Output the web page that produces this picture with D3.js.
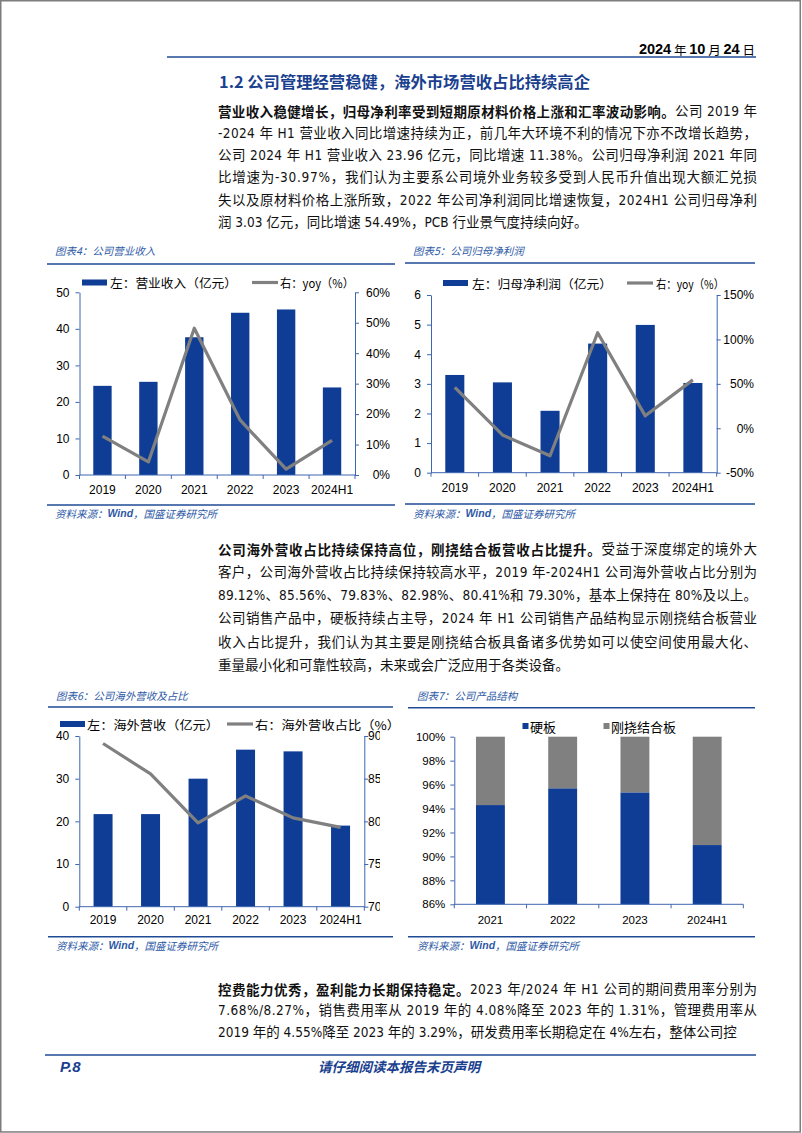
<!DOCTYPE html>
<html><head><meta charset="utf-8">
<script src="https://cdn.jsdelivr.net/npm/d3@7"></script>
<style>
html,body{margin:0;padding:0;background:#fff;}
svg{display:block;}
</style></head><body>
<svg id="page" width="802" height="1133"></svg>
<script>
// ---------------- DATA ----------------
const years6 = ["2019","2020","2021","2022","2023","2024H1"];
const years4 = ["2021","2022","2023","2024H1"];

// 图表4 公司营业收入
const revenue = [24.4, 25.5, 37.7, 44.4, 45.3, 23.96];          // 亿元
const revenueYoy = [12.8, 4.3, 48.2, 18.0, 1.9, 11.38];          // %
const revTicksL = [0, 10, 20, 30, 40, 50];
const revTicksR = [0, 10, 20, 30, 40, 50, 60];

// 图表5 公司归母净利润
const netProfit = [3.30, 3.05, 2.09, 4.36, 4.99, 3.03];         // 亿元
const netProfitYoy = [46.0, -7.5, -30.97, 107.5, 14.0, 54.49];   // %
const npTicksL = [0, 1, 2, 3, 4, 5, 6];
const npTicksR = [-50, 0, 50, 100, 150];

// 图表6 公司海外营收及占比
const overseasRev = [21.7, 21.7, 30.0, 36.8, 36.4, 19.0];       // 亿元
const overseasShare = [89.12, 85.56, 79.83, 82.98, 80.41, 79.30];// %
const osTicksL = [0, 10, 20, 30, 40];
const osTicksR = [70, 75, 80, 85, 90];

// 图表7 公司产品结构
const rigidShare = [94.29, 95.69, 95.35, 90.95];                 // 硬板 %
const rigidFlexShare = rigidShare.map(v => +(100 - v).toFixed(2)); // 刚挠结合板 %
const psTicks = [86, 88, 90, 92, 94, 96, 98, 100];

// ---------------- TEXT ----------------
const dateParts = [["2024",1],[" 年 ",0],["10",1],[" 月 ",0],["24",1],[" 日",0]];
const heading = "1.2 公司管理经营稳健，海外市场营收占比持续高企";
const para1 = [
  [[1,"营业收入稳健增长，归母净利率受到短期原材料价格上涨和汇率波动影响。"],[0,"公司 2019 年"]],
  [[0,"-2024 年 H1 营业收入同比增速持续为正，前几年大环境不利的情况下亦不改增长趋势，"]],
  [[0,"公司 2024 年 H1 营业收入 23.96 亿元，同比增速 11.38%。公司归母净利润 2021 年同"]],
  [[0,"比增速为-30.97%，我们认为主要系公司境外业务较多受到人民币升值出现大额汇兑损"]],
  [[0,"失以及原材料价格上涨所致，2022 年公司净利润同比增速恢复，2024H1 公司归母净利"]],
  [[0,"润 3.03 亿元，同比增速 54.49%，PCB 行业景气度持续向好。"]]
];
const para2 = [
  [[1,"公司海外营收占比持续保持高位，刚挠结合板营收占比提升。"],[0,"受益于深度绑定的境外大"]],
  [[0,"客户，公司海外营收占比持续保持较高水平，2019 年-2024H1 公司海外营收占比分别为"]],
  [[0,"89.12%、85.56%、79.83%、82.98%、80.41%和 79.30%，基本上保持在 80%及以上。"]],
  [[0,"公司销售产品中，硬板持续占主导，2024 年 H1 公司销售产品结构显示刚挠结合板营业"]],
  [[0,"收入占比提升，我们认为其主要是刚挠结合板具备诸多优势如可以使空间使用最大化、"]],
  [[0,"重量最小化和可靠性较高，未来或会广泛应用于各类设备。"]]
];
const para3 = [
  [[1,"控费能力优秀，盈利能力长期保持稳定。"],[0,"2023 年/2024 年 H1 公司的期间费用率分别为"]],
  [[0,"7.68%/8.27%，销售费用率从 2019 年的 4.08%降至 2023 年的 1.31%，管理费用率从"]],
  [[0,"2019 年的 4.55%降至 2023 年的 3.29%，研发费用率长期稳定在 4%左右，整体公司控"]]
];

// ---------------- STYLE ----------------
const svg = d3.select("#page");
const BLUE = "#0f3d96";
const GRAY = "#808080";
const AX = "#3f66b0";
const LINEBLUE = "#1f4a94";
const TBLUE = "#2d59a6";
const CJK = '"Noto Sans CJK SC", sans-serif';
const BODY = '"DejaVu Sans Condensed","DejaVu Sans","Noto Sans CJK SC",sans-serif';
const NUM = '"Liberation Sans", Arial, "Noto Sans CJK SC", sans-serif';

// page border
svg.append("rect").attr("x",0.75).attr("y",0.75).attr("width",799.5).attr("height",1131.2)
  .attr("fill","none").attr("stroke","#7d7d7d").attr("stroke-width",1.5);

// header date
const hdr = svg.append("text").attr("x",755).attr("y",49).attr("text-anchor","end")
  .attr("dominant-baseline","central").style("font-size","14px").attr("fill","#000");
dateParts.forEach(([t,b]) => hdr.append("tspan").text(t)
  .style("font-weight", b ? "bold" : "normal")
  .style("font-family", b ? '"Liberation Sans Narrow","Liberation Sans",sans-serif' : CJK)
  .style("font-size", b ? "14.5px" : "12.5px"));
svg.append("line").attr("x1",167).attr("x2",756).attr("y1",57).attr("y2",57)
  .attr("stroke",LINEBLUE).attr("stroke-width",1.6);

// heading
svg.append("text").attr("x",219).attr("y",81).attr("dominant-baseline","central")
  .attr("textLength",371).attr("lengthAdjust","spacingAndGlyphs")
  .style("font-family",CJK).style("font-size","15.5px").style("font-weight","bold")
  .attr("fill","#1a3f8f").text(heading);

function paragraph(lines, x, y0, lh, width){
  lines.forEach((segs, i) => {
    const t = svg.append("text").attr("x",x).attr("y",y0 + i*lh)
      .attr("dominant-baseline","central").style("font-family",BODY)
      .style("font-size","13.5px").attr("fill","#111");
    if (i < lines.length - 1) t.attr("textLength",width).attr("lengthAdjust","spacing");
    segs.forEach(([b,s]) => t.append("tspan").text(s)
      .style("font-weight", b ? "bold" : "normal")
      .style("font-family", b ? CJK : BODY));
  });
}
paragraph(para1, 218, 110.5, 22.3, 539);
paragraph(para2, 218, 548.5, 23.3, 539);
paragraph(para3, 218, 988.5, 21.8, 539);

// footer
svg.append("line").attr("x1",45).attr("x2",756).attr("y1",1055).attr("y2",1055)
  .attr("stroke",LINEBLUE).attr("stroke-width",1.4);
svg.append("text").attr("x",60).attr("y",1066).attr("dominant-baseline","central")
  .style("font-family",NUM).style("font-size","15px").style("font-weight","bold")
  .style("font-style","italic").attr("fill","#1a3f8f").text("P.8");
svg.append("text").attr("x",399).attr("y",1066).attr("dominant-baseline","central")
  .attr("text-anchor","middle").style("font-family",CJK).style("font-size","13.5px")
  .style("font-weight","bold").style("font-style","italic").attr("fill","#1a3f8f")
  .text("请仔细阅读本报告末页声明");

// ---------------- CHART FRAME ----------------
function frame(o){
  svg.append("text").attr("x",o.tx).attr("y",o.ty).attr("dominant-baseline","central")
    .style("font-family",CJK).style("font-size","10.5px").style("font-style","italic")
    .attr("fill",TBLUE).text(o.title);
  svg.append("line").attr("x1",o.lx0).attr("x2",o.lx1).attr("y1",o.ly1).attr("y2",o.ly1)
    .attr("stroke",LINEBLUE).attr("stroke-width",1.5);
  svg.append("line").attr("x1",o.lx0).attr("x2",o.lx1).attr("y1",o.ly2).attr("y2",o.ly2)
    .attr("stroke",LINEBLUE).attr("stroke-width",1.5);
  const s = svg.append("text").attr("x",o.tx).attr("y",o.sy).attr("dominant-baseline","central")
    .style("font-family",CJK).style("font-size","10.5px").style("font-style","italic").attr("fill",TBLUE);
  s.append("tspan").text("资料来源：");
  s.append("tspan").text("Wind").style("font-family",NUM).style("font-weight","bold");
  s.append("tspan").text("，国盛证券研究所");
}

function styleAxis(g, fs){
  g.attr("font-family",null).attr("font-size",null);
  g.select(".domain").attr("stroke",AX).attr("stroke-width",1);
  g.selectAll(".tick line").attr("stroke",AX).attr("stroke-width",1);
  g.selectAll(".tick text").attr("fill","#000").style("font-family",NUM).style("font-size",fs+"px");
}

function bottomAxis(x, o, fs){
  const g = svg.append("g");
  g.append("line").attr("x1",o.x0).attr("x2",o.x1).attr("y1",o.yB).attr("y2",o.yB)
    .attr("stroke",AX).attr("stroke-width",1);
  const bounds = x.domain().map(d => x(d)).concat([o.x1]);
  g.selectAll("line.bt").data(bounds).join("line").attr("class","bt")
    .attr("x1",d=>d).attr("x2",d=>d).attr("y1",o.yB).attr("y2",o.yB+4)
    .attr("stroke",AX).attr("stroke-width",1);
  g.selectAll("text").data(x.domain()).join("text")
    .attr("x",d => x(d)+x.bandwidth()/2).attr("y",o.xLabelY)
    .attr("text-anchor","middle").attr("dominant-baseline","central")
    .style("font-family",NUM).style("font-size",fs+"px").attr("fill","#000").text(d=>d);
}

let clipId = 0;
function comboChart(o){
  const x = d3.scaleBand().domain(o.cats).range([o.x0,o.x1]);
  const cx = d => x(d) + x.bandwidth()/2;
  const bw = x.bandwidth()*o.barRatio;
  const yL = d3.scaleLinear().domain(o.lDomain).range([o.yB,o.yT]);
  const yR = d3.scaleLinear().domain(o.rDomain).range([o.yB,o.yT]);

  svg.append("g").selectAll("rect").data(o.cats.map((c,i)=>({c, v:o.bars[i]}))).join("rect")
    .attr("x",d=>cx(d.c)-bw/2).attr("y",d=>yL(d.v)).attr("width",bw)
    .attr("height",d=>yL(o.lDomain[0])-yL(d.v)).attr("fill",BLUE);

  const la = svg.append("g").attr("transform",`translate(${o.x0},0)`)
    .call(d3.axisLeft(yL).tickValues(o.lTicks).tickSize(4).tickSizeOuter(0)
      .tickPadding(o.lPad).tickFormat(o.lFmt));
  styleAxis(la, o.fs);

  const wrap = svg.append("g");
  if (o.clipX) {
    const id = "clip" + (clipId++);
    svg.append("clipPath").attr("id",id).append("rect")
      .attr("x",0).attr("y",0).attr("width",o.clipX).attr("height",1133);
    wrap.attr("clip-path",`url(#${id})`);
  }
  const ra = wrap.append("g").attr("transform",`translate(${o.x1},0)`)
    .call(d3.axisRight(yR).tickValues(o.rTicks).tickSize(4).tickSizeOuter(0).tickFormat(o.rFmt));
  styleAxis(ra, o.fs);
  ra.selectAll(".tick text").attr("text-anchor",o.rAnchor).attr("x",o.rLabelX - o.x1);

  bottomAxis(x, o, o.fs);

  svg.append("path").datum(o.line)
    .attr("d", d3.line().x((v,i)=>cx(o.cats[i])).y(v=>yR(v)))
    .attr("fill","none").attr("stroke",GRAY).attr("stroke-width",3.2)
    .attr("stroke-linejoin","round").attr("stroke-linecap","butt");

  // legend
  const lg = svg.append("g");
  if (o.legClip) {
    const id = "clip" + (clipId++);
    svg.append("clipPath").attr("id",id).append("rect")
      .attr("x",0).attr("y",0).attr("width",o.legClip).attr("height",1133);
    lg.attr("clip-path",`url(#${id})`);
  }
  lg.append("rect").attr("x",o.leg[0]).attr("y",o.legY-3).attr("width",25).attr("height",6).attr("fill",BLUE);
  lg.append("text").attr("x",o.leg[1]).attr("y",o.legY).attr("dominant-baseline","central")
    .attr("textLength",o.legW[0]).attr("lengthAdjust","spacingAndGlyphs")
    .style("font-family",CJK).style("font-size","12px").attr("fill","#000").text(o.legText[0]);
  lg.append("line").attr("x1",o.leg[2]).attr("x2",o.leg[2]+26).attr("y1",o.legY).attr("y2",o.legY)
    .attr("stroke",GRAY).attr("stroke-width",3.2);
  lg.append("text").attr("x",o.leg[3]).attr("y",o.legY).attr("dominant-baseline","central")
    .attr("textLength",o.legW[1]).attr("lengthAdjust","spacingAndGlyphs")
    .style("font-family",CJK).style("font-size","12px").attr("fill","#000").text(o.legText[1]);
}

const pct = d => d + "%";

// 图表4
frame({title:"图表4：公司营业收入", tx:55, ty:250, lx0:47, lx1:395, ly1:264, ly2:505, sy:513});
comboChart({cats:years6, bars:revenue, line:revenueYoy, x0:79.5, x1:355, yB:475, yT:292.3,
  lDomain:[0,50], lTicks:revTicksL, lFmt:d=>d, lPad:6, rDomain:[0,60], rTicks:revTicksR, rFmt:pct,
  rAnchor:"end", rLabelX:390, barRatio:0.4, fs:12, xLabelY:490,
  legY:282.5, leg:[82,110,252,280], legW:[127,74], legText:["左：营业收入（亿元）","右：yoy（%）"]});

// 图表5
frame({title:"图表5：公司归母净利润", tx:413, ty:250, lx0:405, lx1:755, ly1:263, ly2:504, sy:513});
comboChart({cats:years6, bars:netProfit, line:netProfitYoy, x0:431, x1:716.7, yB:472.7, yT:295,
  lDomain:[0,6], lTicks:npTicksL, lFmt:d=>d, lPad:6, rDomain:[-50,150], rTicks:npTicksR, rFmt:pct,
  rAnchor:"end", rLabelX:754, barRatio:0.4, fs:12, xLabelY:488,
  legY:283, leg:[443,472,627,656], legW:[140,68], legText:["左：归母净利润（亿元）","右：yoy（%）"]});

// 图表6
frame({title:"图表6：公司海外营收及占比", tx:56, ty:695, lx0:48, lx1:393, ly1:707, ly2:936.7, sy:945});
comboChart({cats:years6, bars:overseasRev, line:overseasShare, x0:79.3, x1:364.3, yB:906.7, yT:736,
  lDomain:[0,40], lTicks:osTicksL, lFmt:d=>d, lPad:6, rDomain:[70,90], rTicks:osTicksR, rFmt:pct,
  rAnchor:"start", rLabelX:368, clipX:380, barRatio:0.4, fs:12, xLabelY:920,
  legY:724, leg:[60,87,227,255], legW:[132,145], legClip:392, legText:["左：海外营收（亿元）","右：海外营收占比（%）"]});

// 图表7
frame({title:"图表7：公司产品结构", tx:417, ty:695, lx0:408, lx1:755, ly1:707.7, ly2:936.7, sy:945});
(function(){
  const o = {x0:454.3, x1:743.3, yB:904.3, yT:736.7, xLabelY:920};
  const x = d3.scaleBand().domain(years4).range([o.x0,o.x1]);
  const y = d3.scaleLinear().domain([86,100]).range([o.yB,o.yT]);
  const bw = x.bandwidth()*0.4;
  const cx = d => x(d)+x.bandwidth()/2;
  const rows = years4.map((c,i)=>({c, a:rigidShare[i], b:rigidFlexShare[i]}));
  svg.append("g").selectAll("rect").data(rows).join("rect")
    .attr("x",d=>cx(d.c)-bw/2).attr("y",d=>y(d.a)).attr("width",bw)
    .attr("height",d=>y(86)-y(d.a)).attr("fill",BLUE);
  svg.append("g").selectAll("rect").data(rows).join("rect")
    .attr("x",d=>cx(d.c)-bw/2).attr("y",d=>y(d.a+d.b)).attr("width",bw)
    .attr("height",d=>y(d.a)-y(d.a+d.b)).attr("fill",GRAY);
  const la = svg.append("g").attr("transform",`translate(${o.x0},0)`)
    .call(d3.axisLeft(y).tickValues(psTicks).tickSize(4).tickSizeOuter(0).tickPadding(5).tickFormat(pct));
  styleAxis(la, 11.5);
  bottomAxis(x, o, 11.5);
  // legend
  const ly = 726;
  svg.append("rect").attr("x",522.5).attr("y",ly-3).attr("width",6).attr("height",6).attr("fill",BLUE);
  svg.append("text").attr("x",530).attr("y",ly).attr("dominant-baseline","central")
    .style("font-family",CJK).style("font-size","13px").attr("fill","#000").text("硬板");
  svg.append("rect").attr("x",603.5).attr("y",ly-3).attr("width",6).attr("height",6).attr("fill",GRAY);
  svg.append("text").attr("x",611).attr("y",ly).attr("dominant-baseline","central")
    .style("font-family",CJK).style("font-size","13px").attr("fill","#000").text("刚挠结合板");
})();
</script>
</body></html>
